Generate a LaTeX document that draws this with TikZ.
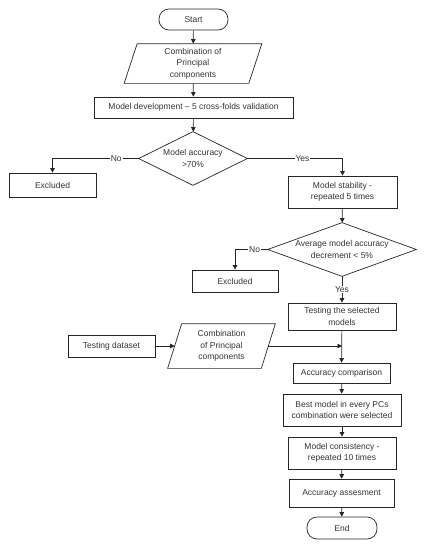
\documentclass[tikz,border=0pt]{standalone}
\usepackage{fontspec}
\setmainfont{Liberation Sans}
\usetikzlibrary{arrows.meta}
\begin{document}
\begin{tikzpicture}[x=1pt,y=-1pt,
  font=\fontsize{8.5}{11.3}\selectfont,
  line width=0.7pt,
  every node/.style={text=black!80, align=center, inner sep=0pt},
  box/.style 2 args={draw=black!85, minimum width=#1pt, minimum height=#2pt},
  term/.style 2 args={draw=black!85, rounded corners=10pt, minimum width=#1pt, minimum height=#2pt},
  frame/.style 2 args={minimum width=#1pt, minimum height=#2pt},
  shp/.style={draw=black!85},
  arr/.style={draw=black!85, -{Triangle[length=4.5pt,width=4.5pt]}},
  lbl/.style={fill=white, inner sep=1pt}
]
\useasboundingbox (0,0) rectangle (426,550);

\node[term={69}{21}] (start) at (193.5,19.5) {Start};
\node[frame={137}{39}] (pc1) at (193,63.5) {Combination of\\Principal\\components};
\node[box={199}{21}] (md) at (193.5,107.5) {Model development -- 5 cross-folds validation};
\node[frame={108}{53}] (d1) at (193,158.5) {Model accuracy\\>70\%};
\node[box={87}{24}] (ex1) at (52.5,185) {Excluded};
\node[box={109}{32}] (ms) at (342.5,192) {Model stability -\\repeated 5 times};
\node[frame={148}{53}] (d2) at (342,249.5) {Average model accuracy\\decrement < 5\%};
\node[box={86}{22}] (ex2) at (235,281) {Excluded};
\node[box={108}{27}] (tsm) at (342,316.5) {Testing the selected\\models};
\node[box={87}{22}] (td) at (111.5,346) {Testing dataset};
\node[frame={107}{44}] (pc2) at (221.5,346) {Combination\\of Principal\\components};
\node[box={97}{20}] (acc) at (341.5,373) {Accuracy comparison};
\node[box={118}{32}] (best) at (342,410) {Best model in every PCs\\combination were selected};
\node[box={108}{32}] (mc) at (342,453) {Model consistency -\\repeated 10 times};
\node[box={105}{28}] (aa) at (341.5,493) {Accuracy assesment};
\node[term={70}{22}] (end) at (342,528) {End};

% shapes drawn around frames
\draw[shp] (pc1.south west) -- ([xshift=-13pt]pc1.south east) -- (pc1.north east) -- ([xshift=13pt]pc1.north west) -- cycle;
\draw[shp] (pc2.south west) -- ([xshift=-14pt]pc2.south east) -- (pc2.north east) -- ([xshift=14pt]pc2.north west) -- cycle;
\draw[shp] (d1.north) -- (d1.east) -- (d1.south) -- (d1.west) -- cycle;
\draw[shp] (d2.north) -- (d2.east) -- (d2.south) -- (d2.west) -- cycle;

% connectors
\draw[arr] (start) -- (pc1);
\draw[arr] (pc1) -- (md);
\draw[arr] (md) -- (d1);
\draw[arr] (d1.west) -| node[lbl, pos=0.13] {No} (ex1.north);
\draw[arr] (d1.east) -| node[lbl, pos=0.29] {Yes} (ms.north);
\draw[arr] (ms) -- (d2);
\draw[arr] (d2.west) -| node[lbl, pos=0.2] {No} (ex2.north);
\draw[arr] (d2.south) -- node[lbl] {Yes} (tsm.north);
\draw[arr] (td.east) -- ([xshift=7pt]pc2.west);
\draw[arr] ([xshift=-7pt]pc2.east) -- (tsm.south |- pc2.east);
\draw[arr] (tsm) -- (acc);
\draw[arr] (acc) -- (best);
\draw[arr] (best) -- (mc);
\draw[arr] (mc) -- (aa);
\draw[arr] (aa) -- (end);
\end{tikzpicture}
\end{document}
